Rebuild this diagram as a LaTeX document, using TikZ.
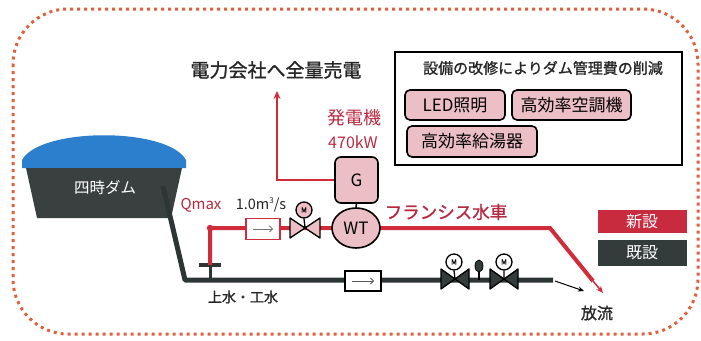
\documentclass[tikz,border=0pt]{standalone}
\usepackage{fontspec}
\setmainfont{Noto Sans CJK JP}[AutoFakeBold=1.2]
\usetikzlibrary{arrows.meta,shapes.geometric}

\definecolor{pipered}{HTML}{D02C3C}
\definecolor{textred}{HTML}{B82840}
\definecolor{pipedark}{HTML}{2E3535}
\definecolor{boxpink}{HTML}{ECBFC6}
\definecolor{damblue}{HTML}{2B7FCC}
\definecolor{damdark}{HTML}{3A4040}
\definecolor{dotred}{HTML}{E0603C}
\definecolor{legred}{HTML}{C82A3E}
\definecolor{legdark}{HTML}{333B3B}

\newcommand{\fs}[1]{\fontsize{#1}{#1}\selectfont}

\begin{document}
\begin{tikzpicture}[x=1pt,y=-1pt,
  redpipe/.style={draw=pipered,line width=4pt},
  oldpipe/.style={draw=pipedark,line width=5pt},
  pinkbox/.style={draw=black,line width=1.6pt,fill=boxpink,rounded corners=5pt,inner sep=0pt,font=\fs{17}},
  motor/.style={circle,draw=black,line width=1.3pt,inner sep=0pt,minimum size=16pt,font=\fs{7}\bfseries},
  legbox/.style={minimum width=89pt,inner sep=0pt,font=\fs{16},text=white},
  meterbox/.style={fill=white,line width=1.5pt,minimum width=34pt,minimum height=21pt,inner sep=0pt},
  redtext/.style={text=textred,inner sep=0pt},
  darktext/.style={text=black!85,inner sep=0pt},
  redvalve/.pic={\filldraw[fill=boxpink,draw=black,line width=1.3pt,line join=round]
      (-15,-10) -- (0,0) -- (-15,10) -- cycle (15,-10) -- (0,0) -- (15,10) -- cycle;},
  oldvalve/.pic={\filldraw[fill=legdark,draw=black,line width=1.3pt,line join=round]
      (-14,-10) -- (0,0) -- (-14,10) -- cycle (14,-10) -- (0,0) -- (14,10) -- cycle;}
]
\useasboundingbox (0,0) rectangle (701,340);

% dotted outer frame
\draw[dotred,line width=3pt,dash pattern=on 3pt off 4pt,rounded corners=55pt]
  (13,9) rectangle (698,334);

% dam reservoir
\fill[damblue] (22,168) -- (22,160) .. controls (40,127) and (168,127) .. (186,160) -- (186,168) -- cycle;
\fill[damdark] (26,168) -- (182,168) -- (171,218) -- (37,218) -- cycle;
\node[text=white,font=\fs{15.5},inner sep=0pt] (dam) at (105,188) {四時ダム};

% pipe coordinates
\coordinate (intake) at (163,186);
\coordinate (bend) at (185,280);
\coordinate (pipeEnd) at (553,280);
\coordinate (tee) at (210,280);
\coordinate (teeTop) at (210,265);
\coordinate (redCorner) at (210,228);
\coordinate (redBend) at (550,228);
\coordinate (redThin) at (593,281);
\coordinate (redTip) at (603,293);
\coordinate (outTip) at (584,291);
\coordinate (valveR) at (305,228);
\coordinate (valveA) at (455,279);
\coordinate (valveB) at (504,279);

% existing pipeline
\draw[oldpipe,line join=round] (intake) -- (bend) -- (pipeEnd);
\draw[pipedark,line width=3pt] (tee) -- (teeTop);
\draw[pipedark,line width=4pt] (199,265) -- (221,265);

% new red pipeline
\draw[redpipe,line join=miter] (teeTop) -- (redCorner) -- (redBend) -- (redThin);
\draw[pipered,line width=1.5pt,-{Stealth[length=7pt,width=6pt]}] (redThin) -- (redTip);
\fill[pipered] (redCorner) circle (3.2pt);

% outflow of existing pipe
\draw[black,line width=1pt,-{Stealth[length=6pt,width=5pt]}] (pipeEnd) ++(2,1) -- (outTip);
\node[darktext,font=\fs{16}\bfseries] (release) at (597,313) {放流};

% flow meters
\node[meterbox,draw=pipered] (redmeter) at (263,229) {};
\draw[black!55,line width=0.8pt,-{Straight Barb[length=3pt]}] ([xshift=-10pt]redmeter.center) -- ([xshift=10pt]redmeter.center);
\node[meterbox,draw=black,minimum width=36pt,minimum height=20pt] (meter) at (363,281) {};
\draw[black!65,line width=0.8pt,-{Straight Barb[length=3pt]}] ([xshift=-11pt]meter.center) -- ([xshift=11pt]meter.center);

% red valve with motor
\node[motor,fill=boxpink] (mRed) at (304,210) {M};
\draw[black,line width=1.3pt] (valveR) -- (mRed.south);
\pic at (valveR) {redvalve};

% existing valves with motors
\node[motor,fill=white] (mA) at (454,262) {M};
\node[motor,fill=white] (mB) at (504,262) {M};
\draw[black,line width=1.3pt] (valveA) -- (mA.south) (valveB) -- (mB.south);
\pic at (valveA) {oldvalve};
\pic at (valveB) {oldvalve};
\node[ellipse,fill=legdark,draw=black,line width=0.8pt,minimum width=8pt,minimum height=12pt,inner sep=0pt] (gauge) at (479,266) {};
\draw[black,line width=1.3pt] (gauge.south) -- (479,280);

% turbine and generator
\node[ellipse,draw=black,line width=1.6pt,fill=boxpink,minimum width=48pt,minimum height=40pt,inner sep=0pt,font=\fs{17}] (wt) at (356,228) {WT};
\node[pinkbox,minimum width=43pt,minimum height=46pt,rounded corners=6pt] (gen) at (356.5,180) {G};
\draw[black,line width=1.5pt] (wt.north) -- (gen.south);

% power line to the utility
\node[darktext,font=\fs{19}\bfseries] (sell) at (276,70) {電力会社へ全量売電};
\coordinate (sellTip) at (277,91);
\draw[pipered,line width=2pt,-{Stealth[length=8pt,width=7pt]}] (gen.west) -| (sellTip);

% labels
\node[redtext,font=\fs{18}] (genlabel) at (354,118) {発電機};
\node[redtext,font=\fs{16}] (kw) at (353,142) {470kW};
\node[redtext,font=\fs{15}] (qmax) at (201,205) {Qmax};
\node[darktext,font=\fs{14.5}] (flow) at (261,205) {1.0m\raisebox{0.45em}{\fs{8}3}/s};
\node[redtext,font=\fs{17.5}\bfseries] (francis) at (446,212) {フランシス水車};
\node[darktext,font=\fs{14}\bfseries] (use) at (243,297) {上水・工水};

% maintenance cost box
\node[draw=black,line width=2pt,minimum width=287pt,minimum height=113pt,inner sep=0pt] (savebox) at (538.5,108.5) {};
\node[darktext,font=\fs{15}\bfseries] (savetitle) at (543,68) {設備の改修によりダム管理費の削減};
\node[pinkbox,minimum width=100pt,minimum height=30pt] (led) at (455,105) {LED照明};
\node[pinkbox,minimum width=119pt,minimum height=30pt] (ac) at (571.5,105) {高効率空調機};
\node[pinkbox,minimum width=130pt,minimum height=31pt] (hw) at (472,141.5) {高効率給湯器};

% legend
\node[legbox,fill=legred,minimum height=23pt] (newleg) at (642,221.5) {新設};
\node[legbox,fill=legdark,minimum height=26pt] (oldleg) at (642,253) {既設};
\end{tikzpicture}
\end{document}
